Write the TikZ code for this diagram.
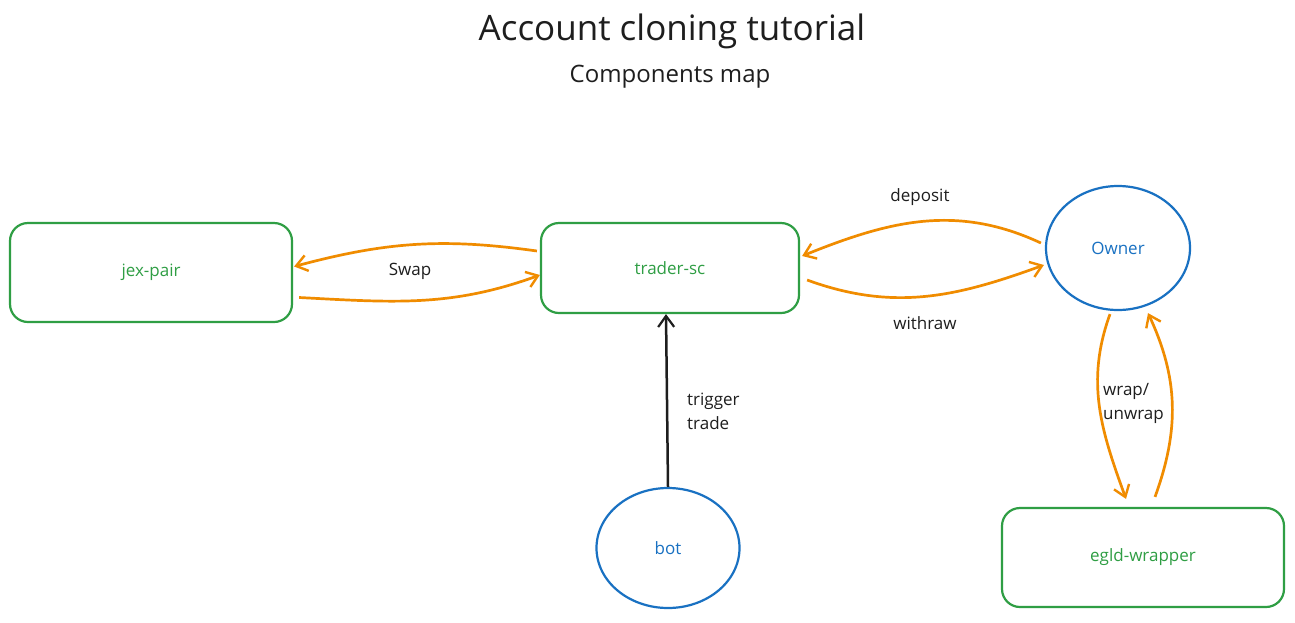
\documentclass[tikz,border=0pt]{standalone}
\usepackage{fontspec}
\setmainfont{Open Sans}
\usetikzlibrary{shapes.geometric,arrows.meta,calc}
\definecolor{exgreen}{HTML}{2F9E44}
\definecolor{exblue}{HTML}{1971C2}
\definecolor{exorange}{HTML}{F08C00}
\definecolor{exblack}{HTML}{1E1E1E}
\begin{document}
\begin{tikzpicture}[x=1pt,y=-1pt,
  box/.style={draw=exgreen,line width=2.2pt,rounded corners=18pt,text=exgreen,font=\fontsize{17}{20}\selectfont,inner sep=0pt},
  actor/.style={draw=exblue,ellipse,line width=2.2pt,text=exblue,font=\fontsize{17}{20}\selectfont,inner sep=0pt},
  flow/.style={draw=exorange,line width=2.7pt,-{Straight Barb[length=11pt,width=16pt,line width=2.4pt]}},
  trig/.style={draw=exblack,line width=2.5pt,-{Straight Barb[length=11pt,width=16pt,line width=2.2pt]}},
  lbl/.style={text=exblack,font=\fontsize{17}{24}\selectfont,align=left,inner sep=0pt}]
\useasboundingbox[fill=white] (0,0) rectangle (1295,622);
\node[text=exblack,font=\fontsize{35}{40}\selectfont] (title) at (672,31) {Account cloning tutorial};
\node[text=exblack,font=\fontsize{24}{28}\selectfont] (sub) at (670,77) {Components map};
\node[box,minimum width=282pt,minimum height=99pt] (jex) at (151,272.5) {jex-pair};
\node[box,minimum width=258pt,minimum height=90pt] (tr) at (670,268) {trader-sc};
\node[actor,minimum width=144pt,minimum height=124pt] (own) at (1118,248) {Owner};
\node[actor,minimum width=143pt,minimum height=120pt] (bot) at (668,548) {bot};
\node[box,minimum width=282pt,minimum height=99pt] (egld) at (1143,557.5) {egld-wrapper};
% swap arrows
\draw[flow] ($(tr.west)+(-3,-17)$) to[out=172,in=15] ($(jex.east)+(1,-6)$);
\draw[flow] ($(jex.east)+(6,25)$) to[out=-3,in=200] ($(tr.west)+(0,7)$);
\node[lbl] (swap) at (410,271) {Swap};
% deposit / withraw
\draw[flow] ($(own.west)+(-4,-5)$) to[out=155,in=22] ($(tr.east)+(2,-12)$);
\draw[flow] ($(tr.east)+(7,12)$) to[out=-20,in=200] ($(own.west)+(-1,17)$);
\node[lbl] (dep) at (920,197) {deposit};
\node[lbl] (wd) at (925,323) {withraw};
% trigger
\draw[trig] (bot.north) -- ($(tr.south)+(-4,0)$);
\node[lbl,anchor=west] (trg) at (687,411) {trigger\\trade};
% wrap
\draw[flow] ($(own.south)+(-8,3)$) to[out=250,in=110] ($(egld.north)+(-17,-8)$);
\draw[flow] ($(egld.north)+(12,-10)$) to[out=70,in=-65] ($(own.south)+(30,2)$);
\node[lbl,anchor=west] (wrp) at (1103,403) {wrap/\\unwrap};
\end{tikzpicture}
\end{document}
